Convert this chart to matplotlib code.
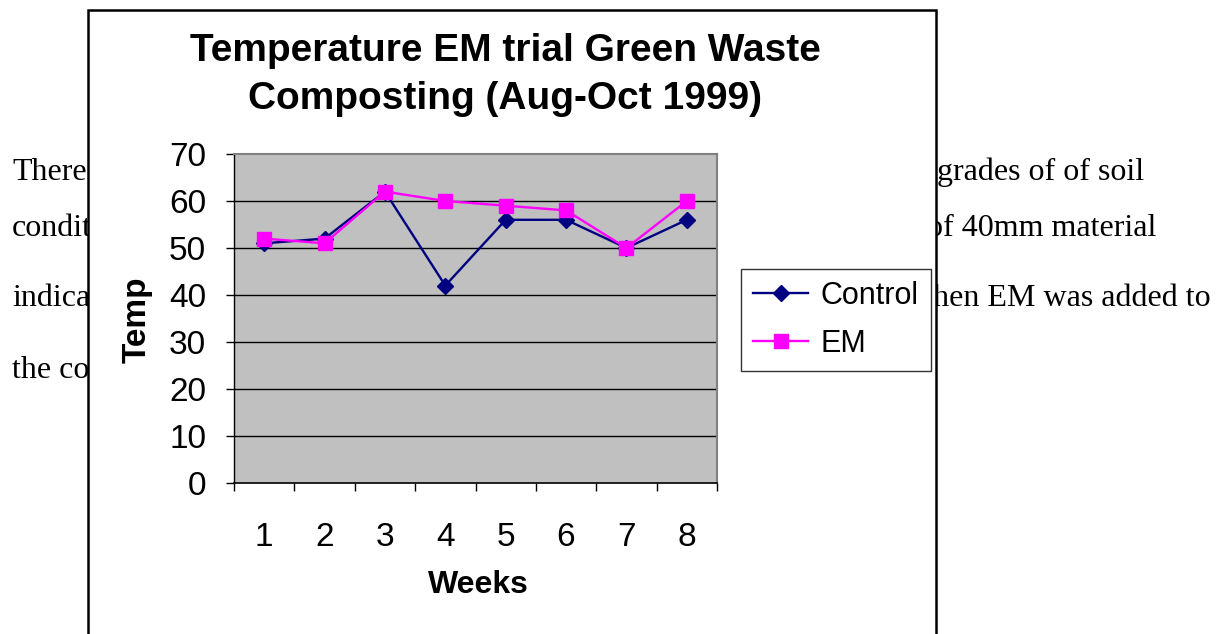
import matplotlib
matplotlib.use("Agg")
import matplotlib.pyplot as plt
from matplotlib.patches import Rectangle
import numpy as np

weeks = ["1", "2", "3", "4", "5", "6", "7", "8"]
control = [51, 52, 62, 42, 56, 56, 50, 56]
em = [52, 51, 62, 60, 59, 58, 50, 60]
yticks = [0, 10, 20, 30, 40, 50, 60, 70]

W, H = 1224, 634
fig = plt.figure(figsize=(W / 100, H / 100), dpi=100)

def fx(px):
    return px / W

def fy(py):
    return 1 - py / H

# background document text
serif = "Liberation Serif"
bg = dict(fontsize=23, family=serif, va="center", zorder=-3)
fig.text(fx(12), fy(172), "There", ha="left", **bg)
fig.text(fx(12), fy(229), "condit", ha="left", **bg)
fig.text(fx(12), fy(299), "indica", ha="left", **bg)
fig.text(fx(12), fy(370), "the co", ha="left", **bg)
fig.text(fx(937), fy(172), "grades of of soil", ha="left", **bg)
fig.text(fx(1156), fy(229), "of 40mm material", ha="right", **bg)
fig.text(fx(1211), fy(299), "when EM was added to", ha="right", **bg)

# chart area (white box with black border)
fig.patches.append(Rectangle((fx(88), -0.1), fx(936) - fx(88), fy(10) + 0.1,
                             transform=fig.transFigure, facecolor="white",
                             edgecolor="black", linewidth=1.8, zorder=-1))

sans = "Liberation Sans"
ax = fig.add_axes([fx(234), fy(483), fx(717) - fx(234), fy(154) - fy(483)])
ax.set_zorder(1)
ax.set_facecolor("#C0C0C0")
x = np.arange(1, len(weeks) + 1)
ax.plot(x, control, color="#000080", marker="D", markersize=8, linewidth=1.7,
        label="Control", zorder=3)
ax.plot(x, em, color="#FF00FF", marker="s", markersize=10, linewidth=1.7,
        label="EM", zorder=4)
ax.set_xlim(0.5, len(weeks) + 0.5)
ax.set_ylim(0, 70)
ax.set_yticks(yticks)
ax.set_yticklabels([str(v) for v in yticks], fontsize=24, family=sans)
for v in yticks[1:-1]:
    ax.axhline(v, color="black", linewidth=1.0, zorder=1)
ax.set_xticks(np.arange(0.5, len(weeks) + 1, 1.0))
ax.set_xticklabels([])
ax.set_xticks(x, minor=True)
ax.set_xticklabels(weeks, minor=True, fontsize=24, family=sans)
ax.tick_params(axis="x", which="minor", length=0, pad=28)
ax.tick_params(axis="x", which="major", length=6, width=1, direction="out")
ax.tick_params(axis="y", length=6, width=1, direction="out", pad=14)
for s in ["top", "right"]:
    ax.spines[s].set_color("#808080")
    ax.spines[s].set_linewidth(1.5)
ax.spines["left"].set_color("black")
ax.spines["bottom"].set_color("black")
ax.spines["left"].set_linewidth(1)
ax.spines["bottom"].set_linewidth(1.2)

fig.text(fx(505), fy(75), "Temperature EM trial Green Waste\nComposting (Aug-Oct 1999)",
         ha="center", va="center", fontsize=28, fontweight="bold", family=sans,
         linespacing=1.45, zorder=2)
fig.text(fx(137), fy(320), "Temp", rotation=90, ha="center", va="center",
         fontsize=24, fontweight="bold", family=sans, zorder=2)
fig.text(fx(478), fy(585), "Weeks", ha="center", va="center",
         fontsize=23, fontweight="bold", family=sans, zorder=2)

leg = ax.legend(loc="center left",
                bbox_to_anchor=((741 - 234) / (717 - 234), (483 - 320) / (483 - 154)),
                frameon=True, fancybox=False, edgecolor="black",
                prop={"family": sans, "size": 22}, handlelength=1.8,
                borderpad=0.4, labelspacing=0.6, handletextpad=0.4,
                borderaxespad=0)
leg.get_frame().set_linewidth(1.0)

fig.savefig("out.png", dpi=100)
